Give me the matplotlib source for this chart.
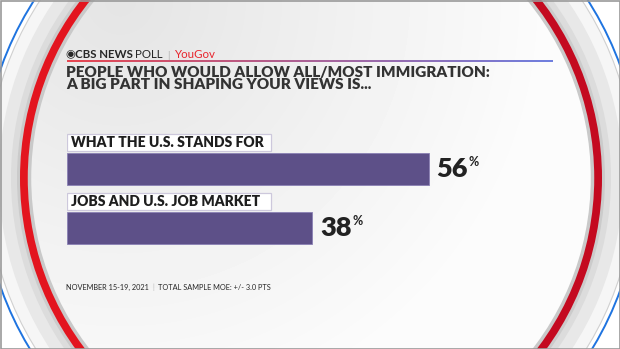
import matplotlib
matplotlib.use('Agg')
import matplotlib.pyplot as plt
import numpy as np
from matplotlib.patches import Circle, Wedge, Rectangle
from matplotlib.collections import LineCollection

# ---------------- data ----------------
categories = ["WHAT THE U.S. STANDS FOR", "JOBS AND U.S. JOB MARKET"]
values = [56, 38]
header_brand = "CBS NEWS"
header_poll = "POLL"
header_partner = "YouGov"
title_lines = ["PEOPLE WHO WOULD ALLOW ALL/MOST IMMIGRATION:",
               "A BIG PART IN SHAPING YOUR VIEWS IS..."]
footnote_date = "NOVEMBER 15-19, 2021"
footnote_moe = "TOTAL SAMPLE MOE: +/- 3.0 PTS"

# ---------------- layout / style ----------------
W, H = 620, 349
FONT = ['Lato', 'DejaVu Sans']
BAR_COLOR = '#5d5088'
TEXT_DARK = '#262626'

fig = plt.figure(figsize=(W / 100, H / 100), dpi=100)
bg = fig.add_axes([0, 0, 1, 1])
bg.set_xlim(0, W)
bg.set_ylim(H, 0)
bg.axis('off')

cx, cy = 311, 178
bg.add_patch(Rectangle((0, 0), W, H, facecolor='white', edgecolor='none', zorder=0))
bg.add_patch(Circle((cx, cy), 324, facecolor='#f6f6f6', edgecolor='#d0d0d0', lw=0.8, zorder=1))
bg.add_patch(Circle((cx, cy), 312, facecolor='#e8e8e8', edgecolor='none', zorder=1))
bg.add_patch(Circle((cx, cy), 300, facecolor='#dcdcdc', edgecolor='none', zorder=1))
bg.add_patch(Circle((cx, cy), 294, facecolor='#cbcbcb', edgecolor='none', zorder=1))
# red ring (brighter left, darker right)
bg.add_patch(Wedge((cx, cy), 291, 90, 270, width=10, facecolor='#e3151f', edgecolor='none', zorder=2))
bg.add_patch(Wedge((cx, cy), 291, -90, 90, width=10, facecolor='#c40a20', edgecolor='none', zorder=2))
# inner face with soft gradient
yy, xx = np.mgrid[0:H, 0:W]
shade = 0.985 - 0.09 * np.clip(1 - np.hypot(xx - 120, yy - 0) / 420, 0, 1)
inner = Circle((cx, cy), 281, transform=bg.transData)
im = bg.imshow(shade, cmap='gray', vmin=0, vmax=1, extent=[0, W, H, 0],
               zorder=3, interpolation='bilinear', aspect='auto')
im.set_clip_path(inner)
bg.add_patch(Circle((cx, cy), 281.5, facecolor='none', edgecolor='#c9c9c9', lw=2.5, zorder=3.5))
# blue outer line
bg.add_patch(Circle((cx, cy), 329, facecolor='none', edgecolor='#1f74e0', lw=1.4, zorder=2))
# frame
bg.add_patch(Rectangle((0.5, 0.5), W - 1, H - 1, facecolor='none', edgecolor='#9a9a9a', lw=1.2, zorder=10))

# header
t0 = bg.text(65.5, 54.5, '\u25c9', fontsize=8, family='DejaVu Sans', color=TEXT_DARK,
             va='center', ha='left', zorder=5)
t1 = bg.annotate(header_brand, xy=(1, 0), xycoords=t0, xytext=(-0.3, 0), textcoords='offset points',
                 fontsize=8.3, family=FONT, weight='bold', color=TEXT_DARK, va='bottom', zorder=5)
t2 = bg.annotate(header_poll, xy=(1, 0), xycoords=t1, xytext=(2, 0), textcoords='offset points',
                 fontsize=8.3, family=FONT, color=TEXT_DARK, va='bottom', zorder=5)
t3 = bg.annotate('|', xy=(1, 0), xycoords=t2, xytext=(3, 0), textcoords='offset points',
                 fontsize=7, family=FONT, color='#aaaaaa', va='bottom', zorder=5)
t4 = bg.annotate(header_partner, xy=(1, 0), xycoords=t3, xytext=(3, 0), textcoords='offset points',
                 fontsize=8.3, family=FONT, color='#e8242c', va='bottom', zorder=5)

# gradient rule
xs = np.linspace(67, 553, 60)
segs = [[(xs[i], 61), (xs[i + 1], 61)] for i in range(len(xs) - 1)]
c0 = np.array([0.90, 0.15, 0.20])
c1 = np.array([0.33, 0.40, 0.85])
cols = [tuple(c0 + (c1 - c0) * f) for f in np.linspace(0, 1, len(segs))]
bg.add_collection(LineCollection(segs, colors=cols, linewidths=1.2, zorder=5))

# title
for i, line in enumerate(title_lines):
    bg.text(66, 72 + i * 12.3, line, fontsize=11, family=FONT, weight='heavy',
            color='#333333', va='center', ha='left', zorder=5)

# footnote
f1 = bg.text(66, 287, footnote_date, fontsize=5.3, family=FONT, color=TEXT_DARK,
             va='center', ha='left', zorder=5)
f2 = bg.annotate('|', xy=(1, 0), xycoords=f1, xytext=(2.5, 0), textcoords='offset points',
                 fontsize=5.3, family=FONT, color='#bbbbbb', va='bottom', zorder=5)
bg.annotate(footnote_moe, xy=(1, 0), xycoords=f2, xytext=(2.5, 0), textcoords='offset points',
            fontsize=5.3, family=FONT, color=TEXT_DARK, va='bottom', zorder=5)

# ---------------- bars ----------------
PX_PER = 6.46
LEFT_PX, TOP_PX, BOT_PX = 67, 125, 255
XMAX = 70
ax = fig.add_axes([LEFT_PX / W, 1 - BOT_PX / H, XMAX * PX_PER / W, (BOT_PX - TOP_PX) / H])
ax.set_xlim(0, XMAX)
ax.set_ylim(1.458, -0.746)
ax.axis('off')
ax.patch.set_alpha(0)

ypos = np.arange(len(categories))
ax.barh(ypos, values, height=0.542, color=BAR_COLOR, edgecolor='#8a80b4', linewidth=0.6, zorder=3)

BOX_W = 31.6
for y, cat, v in zip(ypos, categories, values):
    ax.add_patch(Rectangle((0, y - 0.593), BOX_W, 0.288, facecolor='white',
                           edgecolor='#cdc8dc', lw=0.9, zorder=3))
    ax.text(0.6, y - 0.449, cat, fontsize=10, family=FONT, weight='heavy',
            color='#1e1e1e', va='center', ha='left', zorder=4)
    tv = ax.annotate(f"{v}", xy=(v, y), xytext=(5.5, 0), textcoords='offset points',
                     fontsize=19.5, family=FONT, weight='heavy', color='#222222',
                     va='center', ha='left', zorder=4)
    ax.annotate('%', xy=(1, 0.8), xycoords=tv, xytext=(0.6, 0), textcoords='offset points',
                fontsize=9, family=FONT, weight='bold', color='#222222',
                va='center', ha='left', zorder=4)

fig.savefig('out.png', dpi=100)
